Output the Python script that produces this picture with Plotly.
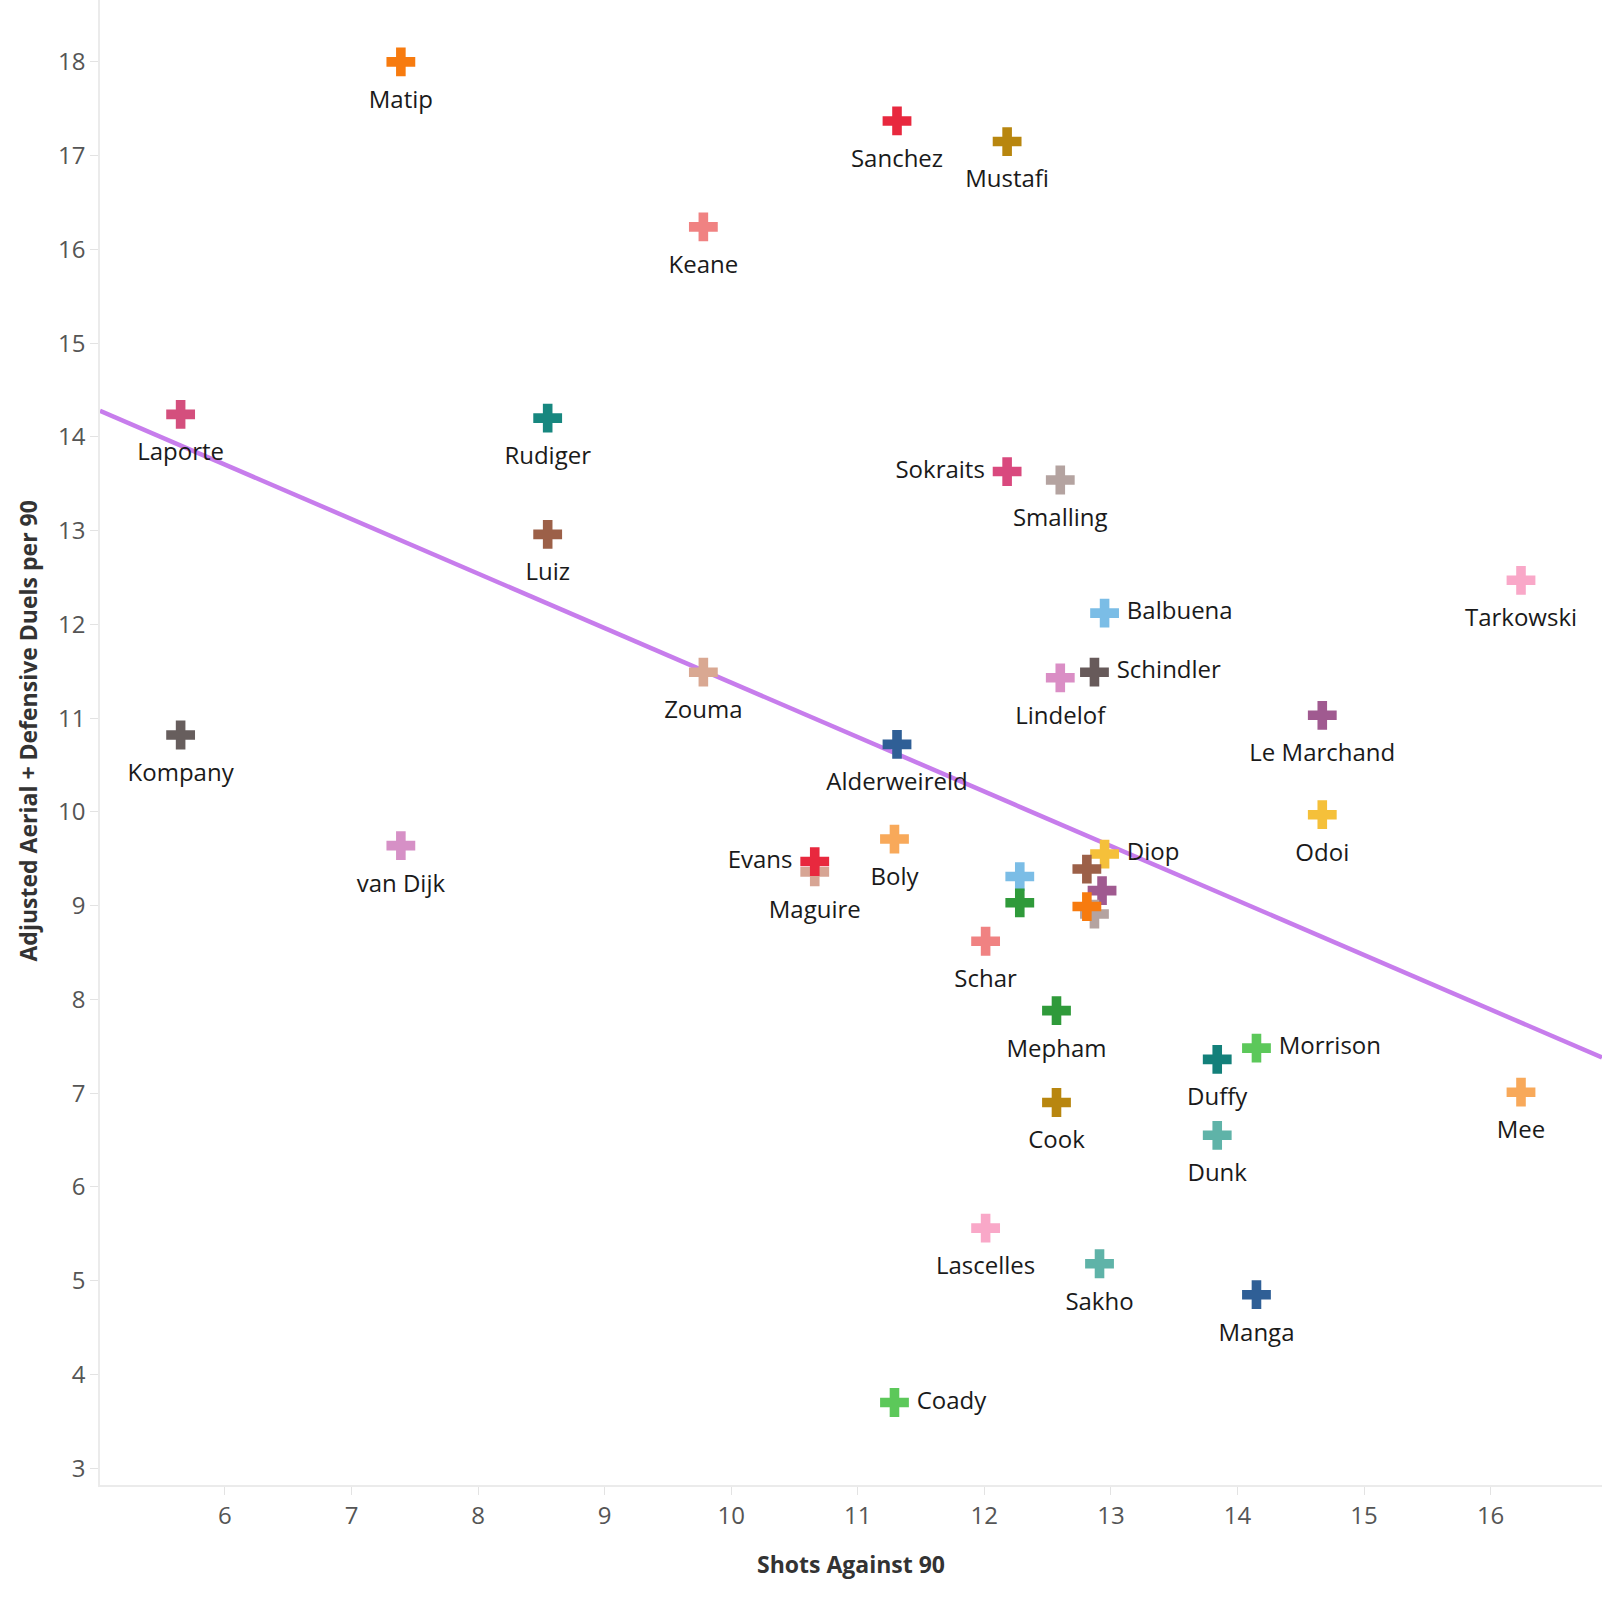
import numpy as np
import plotly.graph_objects as go

# ---- data ----
players = ["Matip", "Sanchez", "Mustafi", "Keane", "Laporte", "Rudiger", "Sokraits", "Smalling",
           "Luiz", "Tarkowski", "Balbuena", "Zouma", "Schindler", "Lindelof", "Le Marchand",
           "Kompany", "Alderweireld", "Odoi", "Boly", "van Dijk", "Diop", "Maguire", "Evans",
           "", "", "", "", "", "",
           "Schar", "Mepham", "Morrison", "Duffy", "Mee", "Cook", "Dunk", "Lascelles", "Sakho",
           "Manga", "Coady"]
shots_against_90 = [7.39, 11.31, 12.18, 9.78, 5.65, 8.55, 12.18, 12.60,
                    8.55, 16.24, 12.95, 9.78, 12.87, 12.60, 14.67,
                    5.65, 11.31, 14.67, 11.29, 7.39, 12.95, 10.66, 10.66,
                    12.81, 12.28, 12.93, 12.28, 12.87, 12.81,
                    12.01, 12.57, 14.15, 13.84, 16.24, 12.57, 13.84, 12.01, 12.91,
                    14.15, 11.29]
duels_per_90 = [18.00, 17.37, 17.15, 16.24, 14.24, 14.20, 13.63, 13.54,
                12.96, 12.47, 12.12, 11.49, 11.49, 11.43, 11.03,
                10.82, 10.72, 9.97, 9.71, 9.64, 9.55, 9.36, 9.47,
                9.39, 9.31, 9.16, 9.03, 8.91, 8.99,
                8.62, 7.88, 7.48, 7.36, 7.01, 6.90, 6.55, 5.56, 5.18,
                4.85, 3.70]
colors = ["#F77B0F", "#E8283E", "#B8860F", "#F08282", "#D44F7D", "#17877F", "#D9497E", "#B4A3A0",
          "#9C6048", "#F9A8C8", "#7BBDE6", "#D9A892", "#675A5A", "#DA8EC5", "#A05A90",
          "#675E5D", "#2F5F96", "#F5C03A", "#F8A95A", "#D690C6", "#F5C03A", "#D7A594", "#E8283E",
          "#9C6048", "#7BBDE6", "#A05A90", "#2F9A3A", "#B4A3A0", "#F77B0F",
          "#F08282", "#2F9A3A", "#5CC85A", "#13807A", "#F8A95A", "#B8860F", "#5FB3A8", "#F9A8C8",
          "#5FB3A8", "#2F5F96", "#5CC85A"]
label_pos = ["bottom center", "bottom center", "bottom center", "bottom center", "bottom center",
             "bottom center", "middle left", "bottom center", "bottom center", "bottom center",
             "middle right", "bottom center", "middle right", "bottom center", "bottom center",
             "bottom center", "bottom center", "bottom center", "bottom center", "bottom center",
             "middle right", "bottom center", "middle left",
             "bottom center", "bottom center", "bottom center", "bottom center", "bottom center",
             "bottom center",
             "bottom center", "bottom center", "middle right", "bottom center", "bottom center",
             "bottom center", "bottom center", "bottom center", "bottom center", "bottom center",
             "middle right"]
x_ticks = [6, 7, 8, 9, 10, 11, 12, 13, 14, 15, 16]
y_ticks = [3, 4, 5, 6, 7, 8, 9, 10, 11, 12, 13, 14, 15, 16, 17, 18]
x_range = [5.013, 16.88]
y_range = [2.82, 18.66]

# linear trend (OLS)
slope, intercept = np.polyfit(shots_against_90, duels_per_90, 1)
trend_x = np.array(x_range)
trend_y = slope * trend_x + intercept

# invisible spacer size controls label distance from the cross
label_spacer = [43 if p.startswith("bottom") else 34 for p in label_pos]

fig = go.Figure()
fig.add_trace(go.Scatter(
    x=trend_x, y=trend_y, mode="lines",
    line=dict(color="#C77DEC", width=4.5), hoverinfo="skip", showlegend=False))
fig.add_trace(go.Scatter(
    x=shots_against_90, y=duels_per_90, mode="markers",
    text=players,
    marker=dict(symbol="cross", size=24, color=colors, line=dict(width=0)),
    showlegend=False))
fig.add_trace(go.Scatter(
    x=shots_against_90, y=duels_per_90, mode="markers+text",
    text=players, textposition=label_pos,
    textfont=dict(family="Open Sans", size=24, color="#1a1a1a"),
    marker=dict(size=label_spacer, color="rgba(0,0,0,0)", line=dict(width=0)),
    hoverinfo="skip", showlegend=False))

axis_common = dict(showgrid=False, zeroline=False, showline=True, linecolor="#ebebeb",
                   linewidth=1.5, ticks="outside", ticklen=8, tickcolor="#e3e3e3",
                   tickfont=dict(family="Open Sans", size=24, color="#555555"))
fig.update_xaxes(range=x_range, tickvals=x_ticks, **axis_common)
fig.update_yaxes(range=y_range, tickvals=y_ticks, **axis_common)

fig.update_layout(
    width=1608, height=1598,
    margin=dict(l=100, r=6, t=0, b=113),
    plot_bgcolor="white", paper_bgcolor="white",
    annotations=[
        dict(text="<b>Shots Against 90</b>", xref="paper", yref="paper", x=0.5, y=-0.053,
             xanchor="center", yanchor="middle", showarrow=False,
             font=dict(family="Open Sans", size=23, color="#333333")),
        dict(text="<b>Adjusted Aerial + Defensive Duels per 90</b>", xref="paper", yref="paper",
             x=-0.048, y=0.508, xanchor="center", yanchor="middle", textangle=-90,
             showarrow=False, font=dict(family="Open Sans", size=23, color="#333333")),
    ],
)

fig.write_html("out.html", config={"displayModeBar": False},
               post_script="document.body.style.margin='0';")
